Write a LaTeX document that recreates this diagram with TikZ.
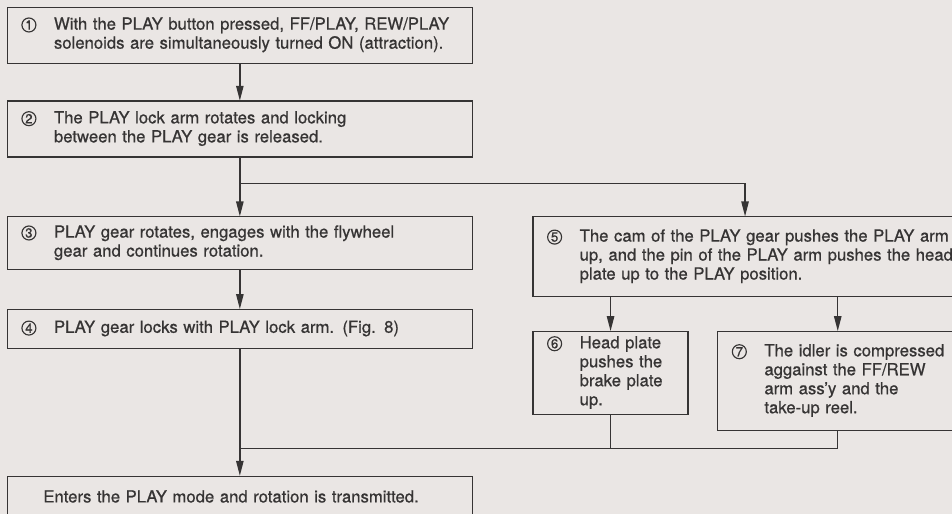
\documentclass[tikz,border=0pt]{standalone}
\usepackage{fontspec}
\setmainfont{TeX Gyre Heros}[FakeBold=0.7]
\usepackage{tikz}
\usetikzlibrary{positioning}
\usetikzlibrary{arrows.meta}
\definecolor{ink}{HTML}{363434}
\definecolor{paper}{HTML}{EAE6E4}

% circled step number followed by its lines of text
\newcommand{\stepnum}[1]{\tikz[baseline=(num.base)]\node[circle, draw=ink, line width=0.65pt, inner sep=0pt,
    minimum size=0.28cm, font=\fontsize{7.5}{7.5}\selectfont] (num) {#1};}
\newcommand{\steptext}[2]{\begin{tabular}{@{}l@{\hspace{0.35cm}}l@{}}\stepnum{#1} & \begin{tabular}[t]{@{}l@{}}#2\end{tabular}\end{tabular}}

\begin{document}
\begin{tikzpicture}[
            > = {Triangle[length=8.5pt,width=4.2pt]}, % arrow head style
            shorten > = 0pt,
            node distance = 0.74cm,
            color = ink,
            line width = 0.75pt
            ]

        \tikzstyle{box}=[
            draw = ink,
            rectangle,
            inner xsep = 0.28cm,
            inner ysep = 0pt,
            align = left,
            text = ink,
            font = \fontsize{9.5}{10.8}\selectfont
        ]

        \useasboundingbox[fill=paper] (0,0) rectangle (19.04,-10.28);
        \clip (0,0) rectangle (19.04,-10.28);

	% left column
	\node[box, text width=8.74cm, minimum height=1.12cm, anchor=north west] (s1) at (0.14,-0.14)
	    {\steptext{1}{With the PLAY button pressed, FF/PLAY, REW/PLAY\\solenoids are simultaneously turned ON (attraction).}};
	\node[box, text width=8.74cm, minimum height=1.12cm, below=0.74cm of s1] (s2)
	    {\steptext{2}{The PLAY lock arm rotates and locking\\between the PLAY gear is released.}};
	\coordinate[below=0.52cm of s2] (fork);
	\node[box, text width=8.74cm, minimum height=1.06cm, below=1.18cm of s2] (s3)
	    {\steptext{3}{PLAY gear rotates, engages with the flywheel\\gear and continues rotation.}};
	\node[box, text width=8.74cm, minimum height=0.78cm, below=0.78cm of s3] (s4)
	    {\steptext{4}{PLAY gear locks with PLAY lock arm. (Fig. 8)}};
	\node[box, text width=8.74cm, minimum height=0.80cm, below=2.54cm of s4] (play)
	    {\hspace*{0.44cm}Enters the PLAY mode and rotation is transmitted.};

	% right column
	\node[box, text width=7.92cm, minimum height=1.60cm, right=1.20cm of s3.north east, anchor=north west] (s5)
	    {\steptext{5}{The cam of the PLAY gear pushes the PLAY arm\\up, and the pin of the PLAY arm pushes the head\\plate up to the PLAY position.}};
	\node[box, text width=2.54cm, minimum height=1.66cm, below=0.68cm of s5.south west, anchor=north west] (s6)
	    {\steptext{6}{Head plate\\pushes the\\brake plate\\up.}};
	\node[box, text width=4.24cm, minimum height=1.98cm, right=0.58cm of s6.north east, anchor=north west] (s7)
	    {\steptext{7}{The idler is compressed\\aggainst the FF/REW\\arm ass’y and the\\take-up reel.}};
	\coordinate[below=0.68cm of s6] (join);

	% connectors
	\path[->] (s1) edge (s2);
	\draw[->] (s2) -- (s3);
	\draw[->] (fork) -| (s5);
	\draw[->] (s3) -- (s4);
	\draw[->] (s4) -- (play);
	\draw[->] (s5.south -| s6) -- (s6);
	\draw[->] (s5.south -| s7) -- (s7);
	\draw (s6) -- (join) -- (join -| s4);
	\draw (s7) |- (join);

\end{tikzpicture}
\end{document}
